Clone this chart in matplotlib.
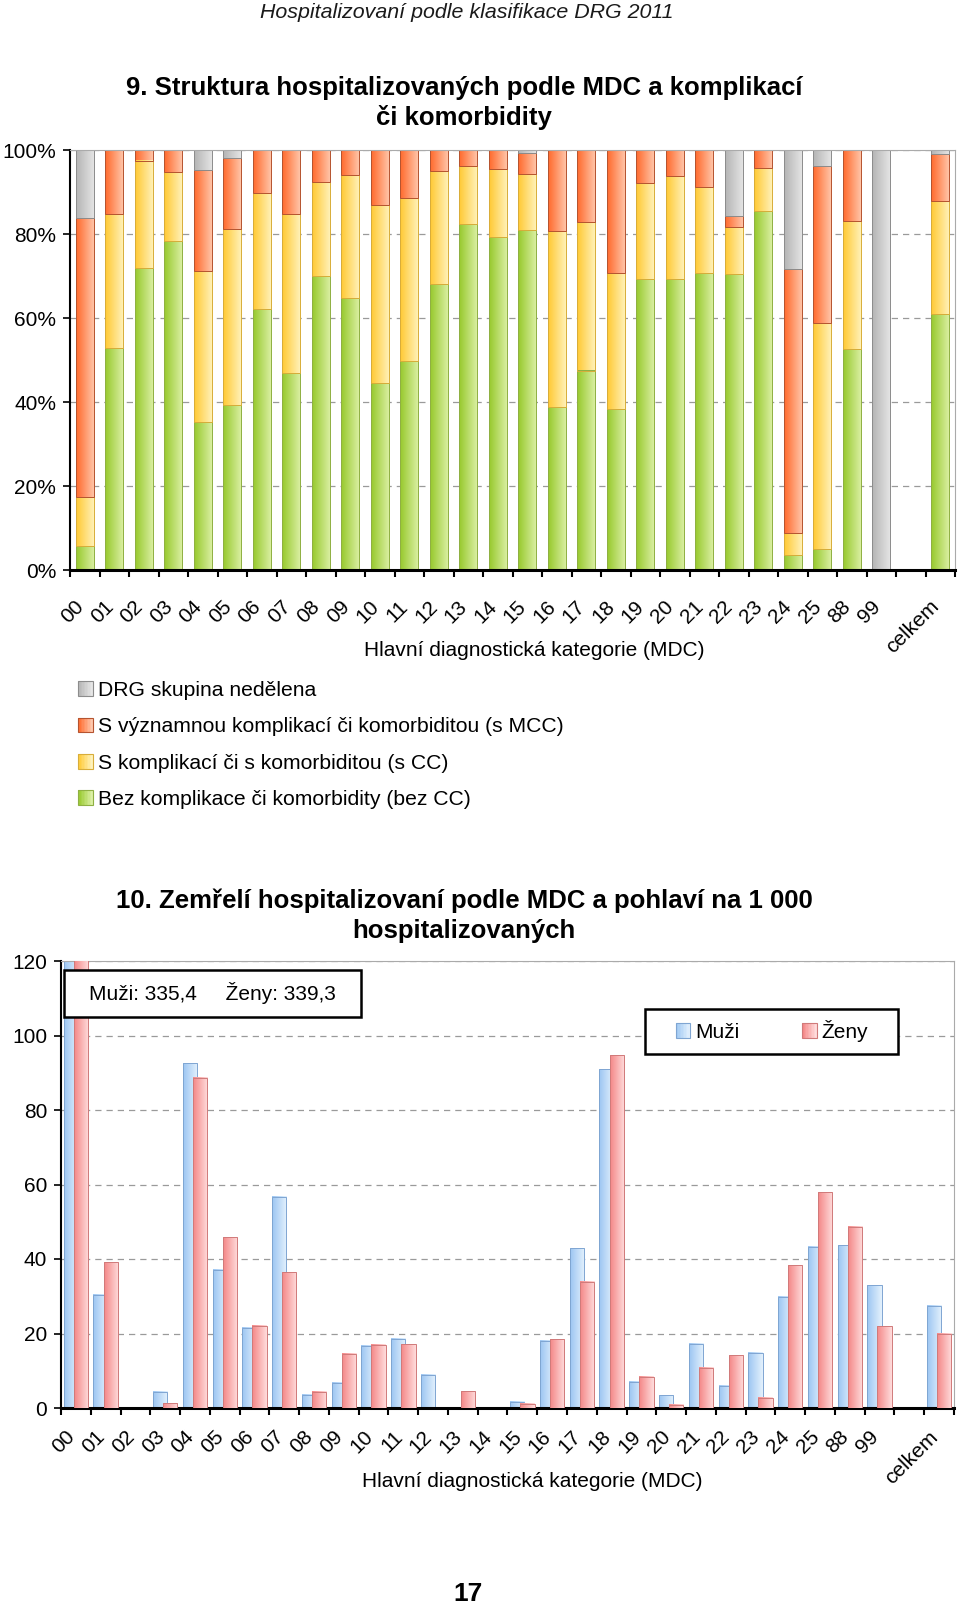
import numpy as np
import matplotlib
matplotlib.use("Agg")
import matplotlib.pyplot as plt
import matplotlib.transforms as mtransforms
from matplotlib.colors import LinearSegmentedColormap, to_rgb
from matplotlib.patches import Rectangle, Patch
from matplotlib.legend_handler import HandlerBase

plt.rcParams['font.family'] = ['Liberation Sans', 'DejaVu Sans']

# kategorie MDC (prazdny sloupec pred "celkem" je i v originale)
kategorie = ['00', '01', '02', '03', '04', '05', '06', '07', '08', '09',
             '10', '11', '12', '13', '14', '15', '16', '17', '18', '19',
             '20', '21', '22', '23', '24', '25', '88', '99', '', 'celkem']

# graf 9 - struktura v %
bez_cc = [5.8, 52.9, 71.9, 78.4, 35.3, 39.3, 62.1, 46.9, 69.9, 64.7,
          44.6, 49.7, 68.0, 82.3, 79.4, 80.9, 38.9, 47.5, 38.3, 69.3,
          69.4, 70.6, 70.5, 85.5, 3.6, 5.0, 52.6, 0.0, 0.0, 61.0]
s_cc = [11.6, 31.8, 25.6, 16.4, 36.0, 42.0, 27.6, 37.8, 22.4, 29.3,
        42.2, 38.9, 27.0, 14.0, 16.1, 13.5, 41.8, 35.3, 32.5, 22.8,
        24.3, 20.5, 11.2, 10.3, 5.1, 53.8, 30.4, 0.0, 0.0, 26.9]
s_mcc = [66.3, 15.3, 2.5, 5.2, 23.9, 16.9, 10.3, 15.3, 7.7, 6.0,
         13.2, 11.4, 5.0, 3.7, 4.5, 5.0, 19.3, 17.2, 29.2, 7.9,
         6.3, 8.9, 2.7, 4.2, 63.0, 37.3, 17.0, 0.0, 0.0, 11.1]
nedeleno = [16.3, 0.0, 0.0, 0.0, 4.8, 1.8, 0.0, 0.0, 0.0, 0.0,
            0.0, 0.0, 0.0, 0.0, 0.0, 0.6, 0.0, 0.0, 0.0, 0.0,
            0.0, 0.0, 15.6, 0.0, 28.3, 3.9, 0.0, 100.0, 0.0, 1.0]

# graf 10 - zemreli na 1 000 hospitalizovanych (MDC 00 je mimo osu)
muzi = [160.0, 30.4, 0.0, 4.3, 92.6, 37.1, 21.6, 56.7, 3.5, 6.8,
        16.7, 18.6, 8.9, 0.0, 0.0, 1.7, 18.1, 42.9, 90.9, 7.0,
        3.4, 17.3, 6.0, 14.8, 29.9, 43.3, 43.7, 33.0, 0.0, 27.4]
zeny = [170.0, 39.1, 0.0, 1.3, 88.7, 45.8, 22.1, 36.5, 4.4, 14.6,
        17.0, 17.1, 0.0, 4.5, 0.0, 1.2, 18.4, 33.9, 94.7, 8.4,
        0.9, 10.8, 14.1, 2.8, 38.3, 57.9, 48.7, 21.9, 0.0, 20.0]
muzi_celkem = '335,4'
zeny_celkem = '339,3'

# barvy (leva, prava strana prechodu, okraj)
c_zelena = ('#97c92c', '#dcf0a6', '#8fb043')
c_zluta = ('#ffc933', '#fff3bd', '#d8ad3a')
c_oranz = ('#ff6a2c', '#ffc8ad', '#b55430')
c_seda = ('#b4b4b4', '#e6e6e6', '#8c8c8c')
c_modra = ('#9cc6f2', '#e4f1fd', '#7fa5d2')
c_ruzova = ('#f48787', '#ffdcdc', '#d07a7a')


def prechod(ax, bars, barvy):
    cmap = LinearSegmentedColormap.from_list('p', [barvy[0], barvy[1]])
    grad = np.linspace(0, 1, 64).reshape(1, -1)
    ytop = ax.get_ylim()[1]
    for b in bars:
        h = b.get_height()
        if h <= 0:
            continue
        x0, y0, w = b.get_x(), b.get_y(), b.get_width()
        ax.imshow(grad, cmap=cmap, extent=(x0, x0 + w, y0, min(y0 + h, ytop)),
                  aspect='auto', interpolation='bilinear', zorder=b.get_zorder() - 0.05)
        b.set_facecolor('none')
        b.set_edgecolor(barvy[2])


class Ctverec(HandlerBase):
    def __init__(self, barvy):
        super().__init__()
        self.c1 = to_rgb(barvy[0])
        self.c2 = to_rgb(barvy[1])
        self.ec = barvy[2]

    def create_artists(self, legend, orig_handle, xdescent, ydescent, width, height, fontsize, trans):
        n = 10
        arts = []
        for k in range(n):
            t = k / (n - 1)
            col = [a + (b - a) * t for a, b in zip(self.c1, self.c2)]
            arts.append(Rectangle((-xdescent + width * k / n, -ydescent), width / n, height,
                                  fc=col, ec='none', transform=trans))
        arts.append(Rectangle((-xdescent, -ydescent), width, height, fc='none',
                              ec=self.ec, lw=0.8, transform=trans))
        return arts


def osy(ax, ytop, pad):
    ax.set_xlim(-0.5, len(kategorie) - 0.5)
    ax.set_ylim(0, ytop)
    ax.set_xticks(np.arange(len(kategorie)))
    ax.set_xticklabels(kategorie, rotation=45, ha='right', va='baseline', rotation_mode='anchor', fontsize=15)
    posun = mtransforms.ScaledTranslation(-9.5 / 72, 0, ax.figure.dpi_scale_trans)
    for t in ax.get_xticklabels():
        t.set_transform(t.get_transform() + posun)
    ax.set_xticks(np.arange(-0.5, len(kategorie)), minor=True)
    ax.tick_params(axis='x', which='major', length=0, pad=pad)
    ax.tick_params(axis='x', which='minor', length=5, width=1.5, direction='out')
    ax.tick_params(axis='y', length=5, width=1.2, direction='out', labelsize=15, pad=5)
    ax.spines['left'].set_linewidth(1.5)
    ax.spines['bottom'].set_linewidth(2.2)
    for s in ['top', 'right']:
        ax.spines[s].set_color('#aaaaaa')
        ax.spines[s].set_linewidth(0.8)
    ax.yaxis.grid(True, linestyle=(0, (5, 4)), color='#9a9a9a', lw=0.9)
    ax.set_axisbelow(True)


fig = plt.figure(figsize=(9.6, 16.1), dpi=100)
W, H = 960.0, 1610.0

fig.text(467 / W, 1 - 12 / H, 'Hospitalizovaní podle klasifikace DRG 2011',
         ha='center', va='center', style='italic', fontsize=15.4, color='#1a1a1a')

# ---------------- graf 9 ----------------
ax1 = fig.add_axes([70 / W, 1 - 570 / H, 885 / W, 420 / H])
x = np.arange(len(kategorie))
osy(ax1, 100, 27)
ax1.set_yticks(np.arange(0, 101, 20))
ax1.set_yticklabels([f'{v}%' for v in range(0, 101, 20)])

dno = np.zeros(len(kategorie))
serie1 = [(bez_cc, c_zelena), (s_cc, c_zluta), (s_mcc, c_oranz), (nedeleno, c_seda)]
for hodnoty, barvy in serie1:
    bars = ax1.bar(x, hodnoty, 0.62, bottom=dno, linewidth=0.7, zorder=2)
    prechod(ax1, bars, barvy)
    dno = dno + np.array(hodnoty)
ax1.set_xlim(-0.5, len(kategorie) - 0.5)
ax1.set_ylim(0, 100)

fig.text(464 / W, 1 - 103 / H,
         '9. Struktura hospitalizovaných podle MDC a komplikací\nči komorbidity',
         ha='center', va='center', fontsize=18.5, fontweight='bold', linespacing=1.3)
fig.text(534 / W, 1 - 650 / H, 'Hlavní diagnostická kategorie (MDC)',
         ha='center', va='center', fontsize=15)

popisky1 = ['DRG skupina nedělena',
            'S významnou komplikací či komorbiditou (s MCC)',
            'S komplikací či s komorbiditou (s CC)',
            'Bez komplikace či komorbidity (bez CC)']
barvy1 = [c_seda, c_oranz, c_zluta, c_zelena]
h1 = [Patch() for _ in popisky1]
fig.legend(h1, popisky1, handler_map={h: Ctverec(b) for h, b in zip(h1, barvy1)},
           loc='upper left', bbox_to_anchor=(78 / W, 1 - 681 / H), frameon=False,
           fontsize=15.2, handlelength=0.7, handleheight=0.7, handletextpad=0.25,
           labelspacing=0.82, borderpad=0, borderaxespad=0)

# ---------------- graf 10 ----------------
ax2 = fig.add_axes([61 / W, 1 - 1408 / H, 893 / W, 447 / H])
osy(ax2, 120, 21.5)
ax2.set_yticks(np.arange(0, 121, 20))
b_m = ax2.bar(x - 0.17, muzi, 0.48, linewidth=0.7, zorder=2)
b_z = ax2.bar(x + 0.17, zeny, 0.48, linewidth=0.7, zorder=3)
prechod(ax2, b_m, c_modra)
prechod(ax2, b_z, c_ruzova)
ax2.set_xlim(-0.5, len(kategorie) - 0.5)
ax2.set_ylim(0, 120)

fig.text(464 / W, 1 - 916 / H,
         '10. Zemřelí hospitalizovaní podle MDC a pohlaví na 1 000\nhospitalizovaných',
         ha='center', va='center', fontsize=18.5, fontweight='bold', linespacing=1.3)
fig.text(532 / W, 1 - 1481 / H, 'Hlavní diagnostická kategorie (MDC)',
         ha='center', va='center', fontsize=15)

# ramecek se souhrnnymi hodnotami
ax2.add_patch(Rectangle((64 / W, 1 - 1017 / H), 297 / W, 47 / H, transform=fig.transFigure,
                        fc='white', ec='black', lw=1.8, zorder=10, clip_on=False))
ax2.text(89 / W, 1 - 993 / H, f'Muži: {muzi_celkem}     Ženy: {zeny_celkem}',
         transform=fig.transFigure, ha='left', va='center', fontsize=15, zorder=11)

# legenda v ramecku
ax2.add_patch(Rectangle((645 / W, 1 - 1054 / H), 253 / W, 45 / H, transform=fig.transFigure,
                        fc='white', ec='black', lw=1.8, zorder=10, clip_on=False))
h2 = [Patch(), Patch()]
leg = ax2.legend(h2, ['Muži', 'Ženy'], handler_map={h2[0]: Ctverec(c_modra), h2[1]: Ctverec(c_ruzova)},
                 loc='center', bbox_to_anchor=(772 / W, 1 - 1031 / H), bbox_transform=fig.transFigure,
                 ncol=2, fontsize=15, handlelength=0.7, handleheight=0.7, handletextpad=0.25,
                 columnspacing=3.0, borderpad=0, frameon=False)
leg.set_zorder(12)

fig.text(468 / W, 1 - 1594 / H, '17', ha='center', va='center', fontsize=19, fontweight='bold')

fig.savefig('out.png', dpi=100)
